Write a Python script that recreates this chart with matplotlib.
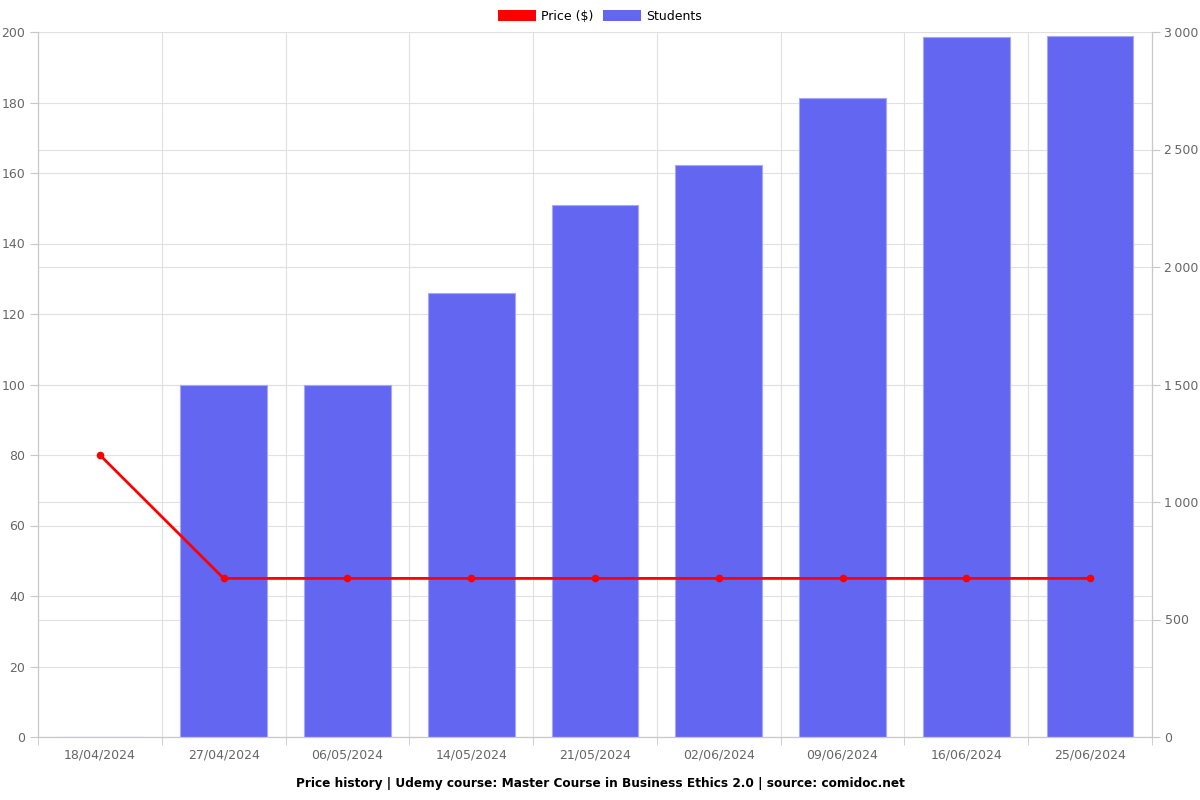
import matplotlib
matplotlib.use("Agg")
import matplotlib.pyplot as plt
from matplotlib.patches import Patch
from matplotlib.ticker import FuncFormatter
import numpy as np

dates = ["18/04/2024", "27/04/2024", "06/05/2024", "14/05/2024", "21/05/2024",
         "02/06/2024", "09/06/2024", "16/06/2024", "25/06/2024"]
price = [80, 44.99, 44.99, 44.99, 44.99, 44.99, 44.99, 44.99, 44.99]
students = [0, 1500, 1500, 1889, 2264, 2434, 2719, 2979, 2983]
left_ticks = list(range(0, 201, 20))
right_ticks = list(range(0, 3001, 500))

bar_color = "#6366f1"
line_color = "#ff0000"
grid_color = "#e0e0e0"
axis_color = "#c8c8c8"
label_color = "#666666"

fig = plt.figure(figsize=(12, 8), dpi=100)
ax = fig.add_axes([38/1200, 63/800, (1152-38)/1200, (737-32)/800])
ax2 = ax.twinx()

x = np.arange(len(dates))

ax.set_zorder(ax2.get_zorder() + 1)
ax.patch.set_visible(False)

ax2.bar(x, students, width=0.7, color=bar_color, edgecolor="#a5a7f7", linewidth=0.8, zorder=2)
ax.plot(x, price, color=line_color, linewidth=2.0, marker="o", markersize=4.5, zorder=3)

ax.set_xlim(-0.5, len(dates) - 0.5)
ax.set_ylim(0, 200)
ax2.set_ylim(0, 3000)
ax.set_yticks(left_ticks)
ax2.set_yticks(right_ticks)
ax2.yaxis.set_major_formatter(FuncFormatter(lambda v, p: f"{int(v):,}".replace(",", "\u2009")))

for v in left_ticks:
    ax2.axhline(v * 15, color=grid_color, linewidth=0.8, zorder=0)
for v in right_ticks:
    ax2.axhline(v, color=grid_color, linewidth=0.8, zorder=0)
for b in np.arange(-0.5, len(dates), 1.0):
    ax2.axvline(b, color=grid_color, linewidth=0.8, zorder=0)

ax.set_xticks(x)
ax.set_xticklabels(dates)
ax.set_xticks(np.arange(-0.5, len(dates), 1.0), minor=True)
ax.tick_params(axis="x", which="major", length=0, pad=8, labelsize=9, labelcolor=label_color)
ax.tick_params(axis="x", which="minor", length=6, color=axis_color)
ax.tick_params(axis="y", length=6, color=axis_color, labelsize=9, labelcolor=label_color, pad=3)
ax2.tick_params(axis="y", length=6, color=axis_color, labelsize=9, labelcolor=label_color, pad=3)

for a in (ax, ax2):
    a.spines["top"].set_visible(False)
    for s in ("left", "right", "bottom"):
        a.spines[s].set_color(axis_color)
        a.spines[s].set_linewidth(0.8)

handles = [Patch(facecolor=line_color, label="Price ($)"),
           Patch(facecolor=bar_color, label="Students")]
fig.legend(handles=handles, loc="upper center", bbox_to_anchor=(0.5, 1.0), ncol=2,
           frameon=False, fontsize=9, handlelength=3.0, handleheight=1.0,
           columnspacing=0.8, handletextpad=0.4, borderaxespad=0.4)

fig.text(0.5, 17/800, "Price history | Udemy course: Master Course in Business Ethics 2.0 | source: comidoc.net",
         ha="center", va="center", fontsize=8.7, fontweight="bold")

fig.savefig("out.png", dpi=100)
